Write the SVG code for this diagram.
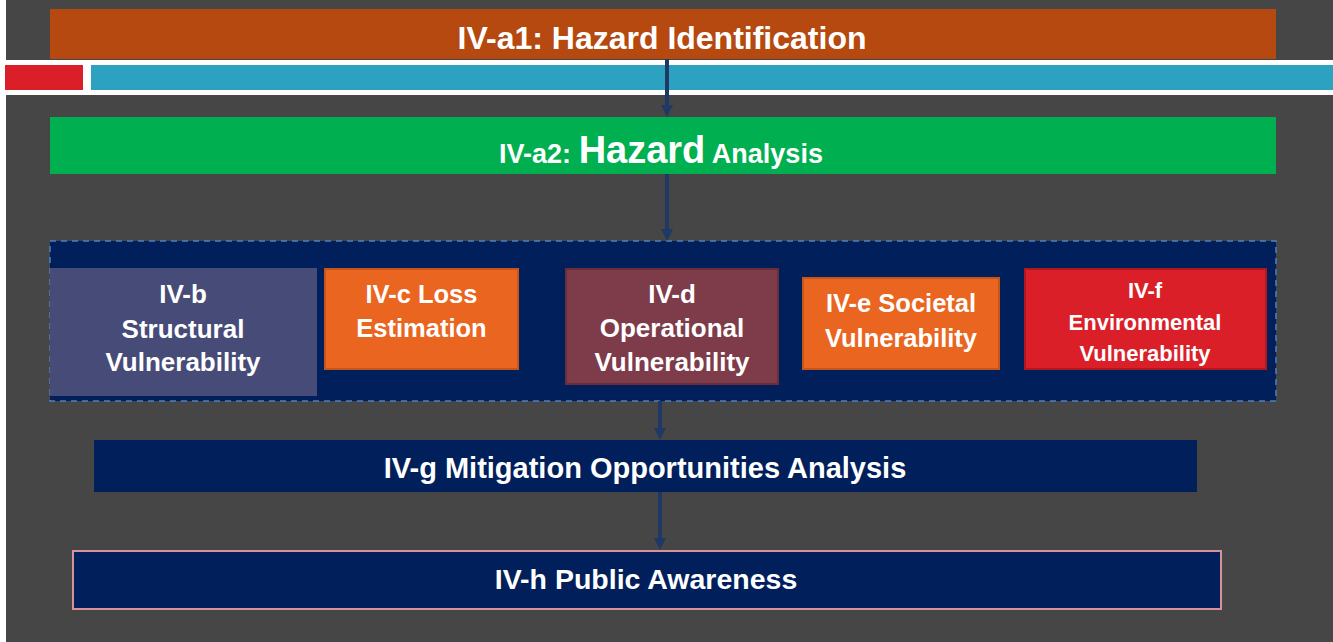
<svg xmlns="http://www.w3.org/2000/svg" width="1333" height="642" viewBox="0 0 1333 642">
<style>
.t{font-family:"Liberation Sans",Arial,sans-serif;font-weight:bold;fill:#ffffff;text-anchor:middle}
.conn{stroke:#203864;stroke-width:4;fill:none}
</style>
<defs>
<marker id="ah" viewBox="0 0 12 12" refX="0" refY="6" markerWidth="12" markerHeight="12" markerUnits="userSpaceOnUse" orient="auto">
<path d="M0,0 L12,6 L0,12 z" fill="#203864"/>
</marker>
</defs>
<rect x="0" y="0" width="1333" height="642" fill="#ffffff"/>
<rect x="6" y="0" width="1327" height="60" fill="#464646"/>
<rect x="6" y="95" width="1327" height="547" fill="#464646"/>
<rect x="5" y="65" width="78" height="25" fill="#DA1F29"/>
<rect x="91" y="65" width="1242" height="25" fill="#2DA2C0"/>

<g id="a1">
<rect x="50" y="9" width="1226" height="50" fill="#B5490F"/>
<text class="t" x="662" y="49" font-size="32">IV-a1: Hazard Identification</text>
</g>
<g id="a2">
<rect x="50" y="117" width="1226" height="57" fill="#00AF50"/>
<text class="t" x="661" y="163" font-size="27">IV-a2: <tspan font-size="38">Hazard</tspan> Analysis</text>
</g>
<g id="container">
<rect x="50" y="241" width="1226" height="160" fill="#001F5B" stroke="#4F81BD" stroke-width="1.5" stroke-dasharray="6 5"/>
</g>
<g id="b">
<rect x="50" y="268" width="267" height="128" fill="#474B78"/>
<text class="t" font-size="26"><tspan x="183" y="303">IV-b</tspan><tspan x="183" y="338">Structural</tspan><tspan x="183" y="371">Vulnerability</tspan></text>
</g>
<g id="c">
<rect x="325" y="269" width="193" height="100" fill="#EA6520" stroke="#C5561A" stroke-width="2"/>
<text class="t" font-size="25.5"><tspan x="421.5" y="303">IV-c Loss</tspan><tspan x="421.5" y="337">Estimation</tspan></text>
</g>
<g id="d">
<rect x="566" y="269" width="212" height="115" fill="#7E3B4A" stroke="#6A2D3B" stroke-width="2"/>
<text class="t" font-size="26"><tspan x="672" y="303">IV-d</tspan><tspan x="672" y="337">Operational</tspan><tspan x="672" y="371">Vulnerability</tspan></text>
</g>
<g id="e">
<rect x="803" y="278" width="196" height="91" fill="#EA6520" stroke="#C5561A" stroke-width="2"/>
<text class="t" font-size="25.5"><tspan x="901" y="312">IV-e Societal</tspan><tspan x="901" y="347">Vulnerability</tspan></text>
</g>
<g id="f">
<rect x="1025" y="269" width="241" height="100" fill="#DA1F29" stroke="#B01820" stroke-width="2"/>
<text class="t" font-size="22"><tspan x="1145" y="298">IV-f</tspan><tspan x="1145" y="330">Environmental</tspan><tspan x="1145" y="361">Vulnerability</tspan></text>
</g>
<g id="g">
<rect x="94" y="440" width="1103" height="52" fill="#001F5B"/>
<text class="t" x="645" y="478" font-size="29">IV-g Mitigation Opportunities Analysis</text>
</g>
<g id="h">
<rect x="73" y="551" width="1148" height="58" fill="#001F5B" stroke="#D6939A" stroke-width="2"/>
<text class="t" x="646" y="589" font-size="28.5">IV-h Public Awareness</text>
</g>
<g id="connectors">
<line class="conn" x1="667" y1="59" x2="667" y2="105" marker-end="url(#ah)"/>
<line class="conn" x1="667" y1="174" x2="667" y2="229" marker-end="url(#ah)"/>
<line class="conn" x1="660" y1="401" x2="660" y2="428" marker-end="url(#ah)"/>
<line class="conn" x1="660" y1="492" x2="660" y2="538" marker-end="url(#ah)"/>
</g>
</svg>
